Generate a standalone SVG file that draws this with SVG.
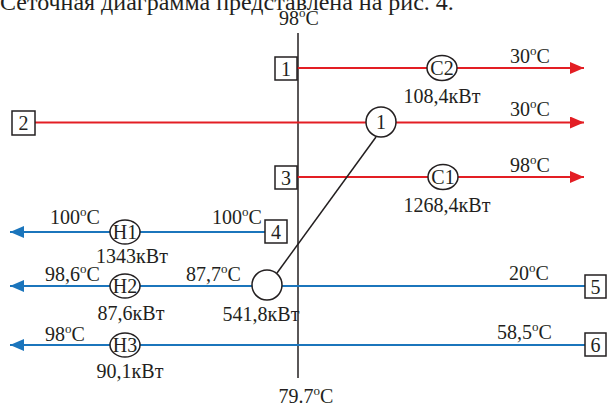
<svg xmlns="http://www.w3.org/2000/svg" width="608" height="403" viewBox="0 0 608 403">
<style>
text{font-family:"Liberation Serif","Times New Roman",serif;font-size:20px;fill:#231f20}
.title{font-size:24px}
.sup{font-size:13px}
.m{text-anchor:middle}
.box{fill:#fff;stroke:#231f20;stroke-width:1.5}
.node{fill:#fff;stroke:#231f20;stroke-width:1.5}
.hot{stroke:#e31e24;stroke-width:2;fill:none}
.cold{stroke:#1b75bc;stroke-width:2;fill:none}
.blk{stroke:#231f20;stroke-width:1.5;fill:none}
</style>
<defs>
<marker id="ar" markerUnits="userSpaceOnUse" markerWidth="14" markerHeight="12" refX="14" refY="6" orient="auto"><path d="M0,0 L14,6 L0,12 z" fill="#e31e24"/></marker>
<marker id="ab" markerUnits="userSpaceOnUse" markerWidth="14" markerHeight="12" refX="14" refY="6" orient="auto"><path d="M0,0 L14,6 L0,12 z" fill="#1b75bc"/></marker>
</defs>
<rect width="608" height="403" fill="#fff"/>
<text class="title" x="0" y="10">Сеточная диаграмма представлена на рис. 4.</text>

<g id="connectors">
<line class="blk" x1="298" y1="33" x2="298" y2="378"/>
<line class="hot" x1="297" y1="68" x2="584" y2="68" marker-end="url(#ar)"/>
<line class="hot" x1="35" y1="122.5" x2="584" y2="122.5" marker-end="url(#ar)"/>
<line class="hot" x1="297" y1="177" x2="584" y2="177" marker-end="url(#ar)"/>
<line class="cold" x1="265" y1="232" x2="10" y2="232" marker-end="url(#ab)"/>
<line class="cold" x1="585" y1="286" x2="10" y2="286" marker-end="url(#ab)"/>
<line class="cold" x1="585" y1="345" x2="10" y2="345" marker-end="url(#ab)"/>
<line class="blk" x1="277" y1="273" x2="376" y2="137"/>
</g>

<g id="box1"><rect class="box" x="275" y="57" width="22" height="23"/><text class="m" x="286" y="76">1</text></g>
<g id="box2"><rect class="box" x="12" y="111" width="23" height="24"/><text class="m" x="23.5" y="130">2</text></g>
<g id="box3"><rect class="box" x="275" y="166" width="22" height="23"/><text class="m" x="286" y="185">3</text></g>
<g id="box4"><rect class="box" x="265" y="220" width="22" height="23"/><text class="m" x="276" y="239">4</text></g>
<g id="box5"><rect class="box" x="585" y="275" width="21" height="23"/><text class="m" x="595.5" y="294">5</text></g>
<g id="box6"><rect class="box" x="585" y="333" width="21" height="23"/><text class="m" x="595.5" y="352">6</text></g>

<g id="C2"><ellipse class="node" cx="442" cy="68" rx="15" ry="12.5"/><text class="m" x="442" y="75">C2</text></g>
<g id="X1"><circle class="node" cx="381" cy="122" r="15"/><text class="m" x="381" y="129">1</text></g>
<g id="C1"><ellipse class="node" cx="443" cy="177" rx="15" ry="12.5"/><text class="m" x="443" y="184">C1</text></g>
<g id="H1"><ellipse class="node" cx="125" cy="232" rx="15" ry="12"/><text class="m" x="125" y="239">H1</text></g>
<g id="H2"><ellipse class="node" cx="125" cy="286" rx="15" ry="12"/><text class="m" x="125" y="293">H2</text></g>
<g id="H3"><ellipse class="node" cx="125" cy="345" rx="15" ry="12"/><text class="m" x="125" y="352">H3</text></g>
<g id="X2"><circle class="node" cx="267" cy="285" r="15"/></g>

<g id="labels">
<text class="m" x="299" y="25">98<tspan class="sup" dy="-8">o</tspan><tspan dy="8">C</tspan></text>
<text x="510" y="63">30<tspan class="sup" dy="-8">o</tspan><tspan dy="8">C</tspan></text>
<text x="510" y="116">30<tspan class="sup" dy="-8">o</tspan><tspan dy="8">C</tspan></text>
<text x="510" y="172">98<tspan class="sup" dy="-8">o</tspan><tspan dy="8">C</tspan></text>
<text class="m" x="442" y="103">108,4кВт</text>
<text class="m" x="447" y="212">1268,4кВт</text>
<text x="50" y="224">100<tspan class="sup" dy="-8">o</tspan><tspan dy="8">C</tspan></text>
<text x="212" y="224">100<tspan class="sup" dy="-8">o</tspan><tspan dy="8">C</tspan></text>
<text class="m" x="132" y="263">1343кВт</text>
<text x="45" y="281">98,6<tspan class="sup" dy="-8">o</tspan><tspan dy="8">C</tspan></text>
<text x="186" y="281">87,7<tspan class="sup" dy="-8">o</tspan><tspan dy="8">C</tspan></text>
<text x="509" y="280">20<tspan class="sup" dy="-8">o</tspan><tspan dy="8">C</tspan></text>
<text class="m" x="131" y="320">87,6кВт</text>
<text class="m" x="261" y="321">541,8кВт</text>
<text x="45" y="341">98<tspan class="sup" dy="-8">o</tspan><tspan dy="8">C</tspan></text>
<text x="497" y="339">58,5<tspan class="sup" dy="-8">o</tspan><tspan dy="8">C</tspan></text>
<text class="m" x="130" y="378">90,1кВт</text>
<text class="m" x="306" y="403">79.7<tspan class="sup" dy="-8">o</tspan><tspan dy="8">C</tspan></text>
</g>
</svg>
